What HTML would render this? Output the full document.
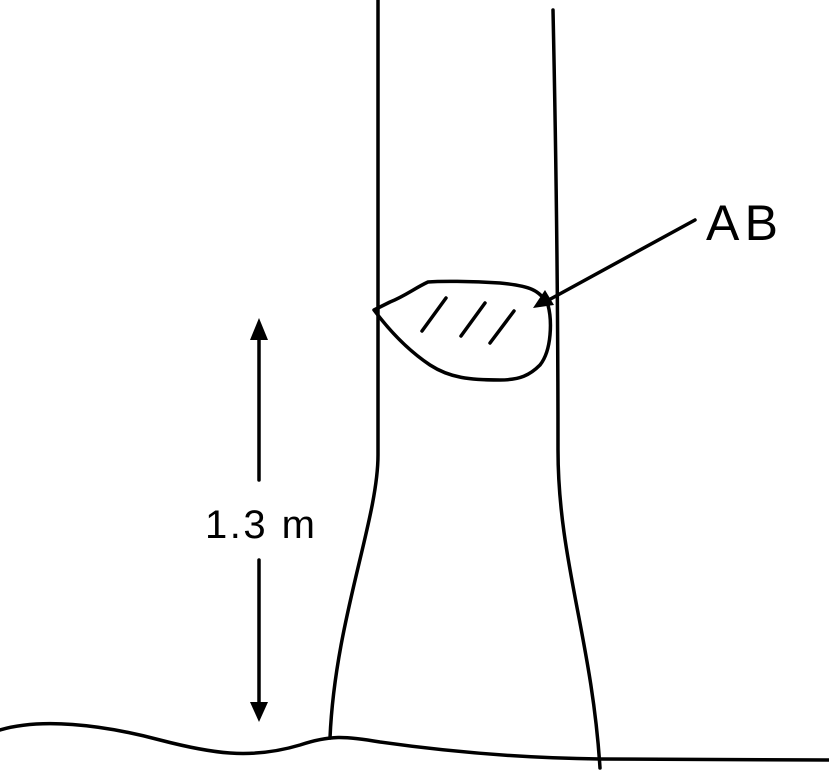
<!DOCTYPE html>
<html><head><style>body{margin:0;background:#fff}svg{display:block}</style></head><body>
<svg width="829" height="770" viewBox="0 0 829 770" xmlns="http://www.w3.org/2000/svg">
<g fill="none" stroke="#000" stroke-width="3.5" stroke-linecap="round" stroke-linejoin="round">
<path d="M378 0 L378 455 C378 520 335 620 330 738"/>
<path d="M553 10 C556 150 558 300 558 450 C558 560 592 640 600 768"/>
<path d="M0 730 C40 718 100 724 160 740 C210 753 250 760 300 745 C330 735 345 736 380 742 C450 752 520 758 600 759 L829 760"/>
<path d="M374 310 C380 318 400 345 430 365 C450 378 470 380 500 380 C520 380 530 375 540 365 C552 350 552 320 548 305 C540 290 530 286 500 283 C470 281 440 281 428 282 C415 288 405 296 390 302 Z"/>
<path d="M422 331 L446 298 M461 336 L485 303 M490 343 L514 311"/>
<path d="M695 220 L545 302"/>
<path d="M259 330 L259 480 M259 560 L259 712"/>
</g>
<polygon points="533,308 545,290 554,305" fill="#000"/>
<polygon points="259,318 250,340 268,340" fill="#000"/>
<polygon points="259,722 250,702 268,702" fill="#000"/>
<text x="706" y="240" font-family="Liberation Sans, sans-serif" font-size="50" fill="#000" textLength="72">AB</text>
<text x="260" y="538" font-family="Liberation Sans, sans-serif" font-size="40" fill="#000" text-anchor="middle" textLength="110">1.3 m</text>
</svg>
</body></html>
